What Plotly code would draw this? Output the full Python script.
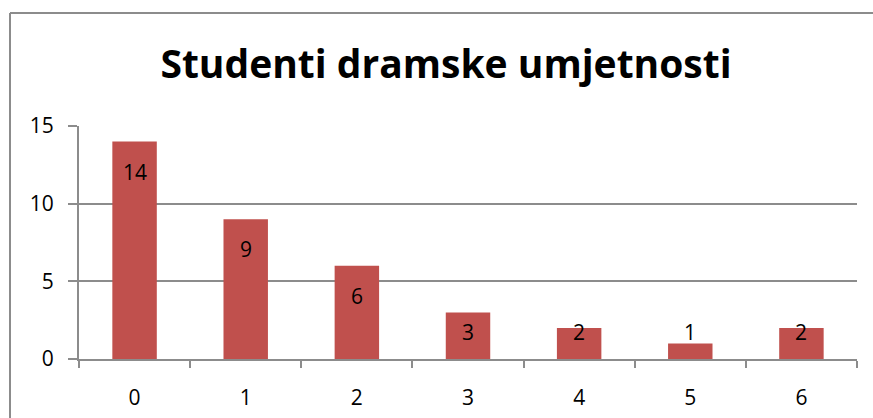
import plotly.graph_objects as go

# Chart data
categories = ["0", "1", "2", "3", "4", "5", "6"]
values = [14, 9, 6, 3, 2, 1, 2]
y_ticks = [0, 5, 10, 15]

title_text = "Studenti dramske umjetnosti"

# Figure geometry (pixels)
W, H = 873, 418
M_L, M_R, M_T, M_B = 79, 16, 126, 59
plot_h = H - M_T - M_B
y_max = 15
px_per_unit = plot_h / y_max

BAR_COLOR = "#C0504D"
GRID_COLOR = "#8C8C8C"
FONT = "Open Sans, sans-serif"

fig = go.Figure()
fig.add_trace(go.Bar(
    x=categories,
    y=values,
    marker=dict(color=BAR_COLOR, line=dict(width=0)),
    width=0.4,
    hoverinfo="x+y",
))

# Value labels just inside the bar tops; kept above the baseline for short bars
for cat, v in zip(categories, values):
    y_lab = max(v - 30 / px_per_unit, 27 / px_per_unit)
    fig.add_annotation(
        x=cat, y=y_lab, text=str(v), showarrow=False,
        xanchor="center", yanchor="middle",
        font=dict(family=FONT, size=21, color="#000000"),
    )

# Outer chart frame (top and left edges)
plot_w = W - M_L - M_R
fx0 = (10 - M_L) / plot_w
fy1 = (H - M_B - 13) / plot_h
fy0 = (H - M_B - H - 5) / plot_h
fig.add_shape(type="line", xref="paper", yref="paper",
              x0=fx0, x1=(W + 5 - M_L) / plot_w, y0=fy1, y1=fy1,
              line=dict(color=GRID_COLOR, width=2))
fig.add_shape(type="line", xref="paper", yref="paper",
              x0=fx0, x1=fx0, y0=fy0, y1=fy1,
              line=dict(color=GRID_COLOR, width=2))

fig.update_layout(
    width=W, height=H,
    margin=dict(l=M_L, r=M_R, t=M_T, b=M_B, pad=0),
    paper_bgcolor="white", plot_bgcolor="white",
    showlegend=False,
    bargap=0.6,
    title=dict(
        text="<b>" + title_text + "</b>",
        x=446 / W, xanchor="center", xref="container",
        y=1 - 64 / H, yanchor="middle", yref="container",
        font=dict(family=FONT, size=39, color="#000000"),
    ),
    xaxis=dict(
        type="category",
        range=[-0.5, 6.5],
        automargin=False,
        tickson="boundaries",
        ticks="outside", ticklen=7, tickwidth=2, tickcolor=GRID_COLOR,
        showline=True, linecolor=GRID_COLOR, linewidth=2,
        showgrid=False, zeroline=False,
        ticklabelstandoff=19,
        tickfont=dict(family=FONT, size=21, color="#000000"),
    ),
    yaxis=dict(
        range=[0, y_max],
        tickvals=y_ticks,
        automargin=False,
        ticks="outside", ticklen=9, tickwidth=2, tickcolor=GRID_COLOR,
        showline=True, linecolor=GRID_COLOR, linewidth=2,
        showgrid=True, gridcolor=GRID_COLOR, gridwidth=2,
        zeroline=False,
        ticklabelstandoff=10,
        tickfont=dict(family=FONT, size=21, color="#000000"),
    ),
)

fig.write_html("out.html")
